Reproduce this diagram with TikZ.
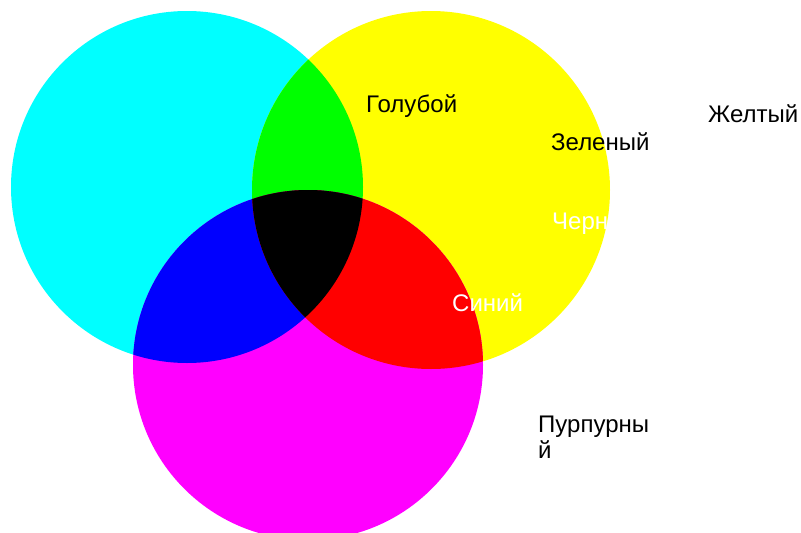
\documentclass[tikz,border=0pt]{standalone}
\usepackage{fontspec}
\setmainfont{Liberation Sans}
\definecolor{cC}{RGB}{0,255,255}
\definecolor{cY}{RGB}{255,255,0}
\definecolor{cM}{RGB}{255,0,255}
\definecolor{cG}{RGB}{0,255,0}
\definecolor{cB}{RGB}{0,0,255}
\definecolor{cR}{RGB}{255,0,0}
\begin{document}
\begin{tikzpicture}[x=1pt,y=-1pt,
  lbl/.style={anchor=base west, inner sep=0pt, font=\fontsize{24}{26}\selectfont, align=left}]
\useasboundingbox (0,0) rectangle (801,533);
\fill[white] (0,0) rectangle (801,533);
% base circles
\fill[cC] (187,187) circle[radius=176];
\fill[cY] (431,190) circle[radius=179];
\fill[cM] (308,365) circle[radius=175];
% cyan & yellow -> green
\begin{scope}
  \clip (187,187) circle[radius=176];
  \fill[cG] (431,190) circle[radius=179];
\end{scope}
% cyan & magenta -> blue
\begin{scope}
  \clip (187,187) circle[radius=176];
  \fill[cB] (308,365) circle[radius=175];
\end{scope}
% yellow & magenta -> red
\begin{scope}
  \clip (431,190) circle[radius=179];
  \fill[cR] (308,365) circle[radius=175];
\end{scope}
% all three -> black
\begin{scope}
  \clip (187,187) circle[radius=176];
  \clip (431,190) circle[radius=179];
  \fill[black] (308,365) circle[radius=175];
\end{scope}
% labels
\node[lbl] (goluboy) at (366,112) {Голубой};
\node[lbl] (zheltyy) at (708,122) {Желтый};
\node[lbl] (zelenyy) at (551,150) {Зеленый};
\node[lbl, text=white] (chernyy) at (552,229) {Черный};
\node[lbl, text=white] (siniy) at (452,311) {Синий};
\node[lbl] (purpurnyy) at (538,458) {Пурпурны\\й};
\end{tikzpicture}
\end{document}
